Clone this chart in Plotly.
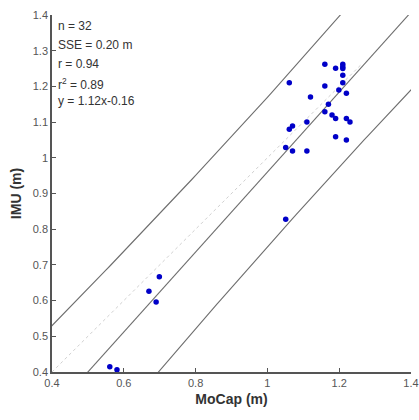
import plotly.graph_objects as go
import numpy as np

mocap = [1.160, 1.190, 1.210, 1.210, 1.210, 1.210, 1.061, 1.160, 1.210, 1.199,
         1.220, 1.120, 1.170, 1.160, 1.180, 1.190, 1.220, 1.230, 1.070, 1.061,
         1.110, 1.190, 1.220, 1.051, 1.070, 1.110, 1.051, 0.699, 0.670, 0.690,
         0.561, 0.581]
imu = [1.262, 1.251, 1.262, 1.255, 1.250, 1.231, 1.210, 1.201, 1.210, 1.190,
       1.181, 1.170, 1.150, 1.129, 1.120, 1.110, 1.110, 1.100, 1.089, 1.080,
       1.100, 1.059, 1.050, 1.029, 1.019, 1.019, 0.828, 0.667, 0.626, 0.596,
       0.415, 0.406]

slope = 1.12
intercept = -0.16
# prediction-band half-width: ~0.209 at the data mean,
# widening towards the ends (~0.24 at x = 0.4)
band_mid = 0.209
band_curv = 0.0317
identity_range = [0.4, 1.26]

stats_lines = ["n = 32", "SSE = 0.20 m", "r = 0.94", "r<sup>2</sup> = 0.89", "y = 1.12x-0.16"]

x_ticks = [0.4, 0.6, 0.8, 1.0, 1.2, 1.4]
x_ticktext = ["0.4", "0.6", "0.8", "1", "1.2", "1.4"]
y_ticks = [0.4, 0.5, 0.6, 0.7, 0.8, 0.9, 1.0, 1.1, 1.2, 1.3, 1.4]
y_ticktext = ["0.4", "0.5", "0.6", "0.7", "0.8", "0.9", "1", "1.1", "1.2", "1.3", "1.4"]

FONT = "Arial, Liberation Sans, sans-serif"

xa = np.array(mocap)
xm = xa.mean()
xl = np.linspace(0.3, 1.5, 121)
fit = slope * xl + intercept
half = np.sqrt(band_mid ** 2 + band_curv * (xl - xm) ** 2)

fig = go.Figure()
for yy in (fit + half, fit, fit - half):
    fig.add_trace(go.Scatter(x=xl, y=yy, mode="lines",
                             line=dict(color="#6e6e6e", width=1.1),
                             hoverinfo="skip", showlegend=False))

fig.add_trace(go.Scatter(x=identity_range, y=identity_range, mode="lines",
                         line=dict(color="#d0d0d0", width=1, dash="dot"),
                         hoverinfo="skip", showlegend=False))

fig.add_trace(go.Scatter(x=mocap, y=imu, mode="markers",
                         marker=dict(color="#0000c8", size=5.5, line=dict(width=0)),
                         showlegend=False))

for i, t in enumerate(stats_lines):
    fig.add_annotation(x=0, y=1 - 0.005 - i * 0.053, xref="paper", yref="paper",
                       text=t, showarrow=False, xanchor="left", yanchor="top",
                       xshift=4, font=dict(family=FONT, size=12, color="#333333"))

fig.update_xaxes(range=[0.4, 1.4], tickvals=x_ticks, ticktext=x_ticktext,
                 showline=True, linecolor="#555555", linewidth=1.5, mirror=False,
                 ticks="inside", ticklen=4, tickcolor="#555555", showgrid=False,
                 zeroline=False, automargin=False,
                 tickfont=dict(family=FONT, size=11, color="#555555"),
                 title=dict(text="<b>MoCap (m)</b>", standoff=6,
                            font=dict(family=FONT, size=14, color="#333333")))
fig.update_yaxes(range=[0.4, 1.4], tickvals=y_ticks, ticktext=y_ticktext,
                 showline=True, linecolor="#555555", linewidth=1.5, mirror=False,
                 ticks="inside", ticklen=4, tickcolor="#555555", showgrid=False,
                 zeroline=False, automargin=False,
                 tickfont=dict(family=FONT, size=11, color="#555555"),
                 title=dict(text="<b>IMU (m)</b>", standoff=8,
                            font=dict(family=FONT, size=14, color="#333333")))

fig.update_layout(width=419, height=420, plot_bgcolor="white", paper_bgcolor="white",
                  margin=dict(l=52, r=8, t=15, b=48, autoexpand=False))

fig.write_html("out.html")
